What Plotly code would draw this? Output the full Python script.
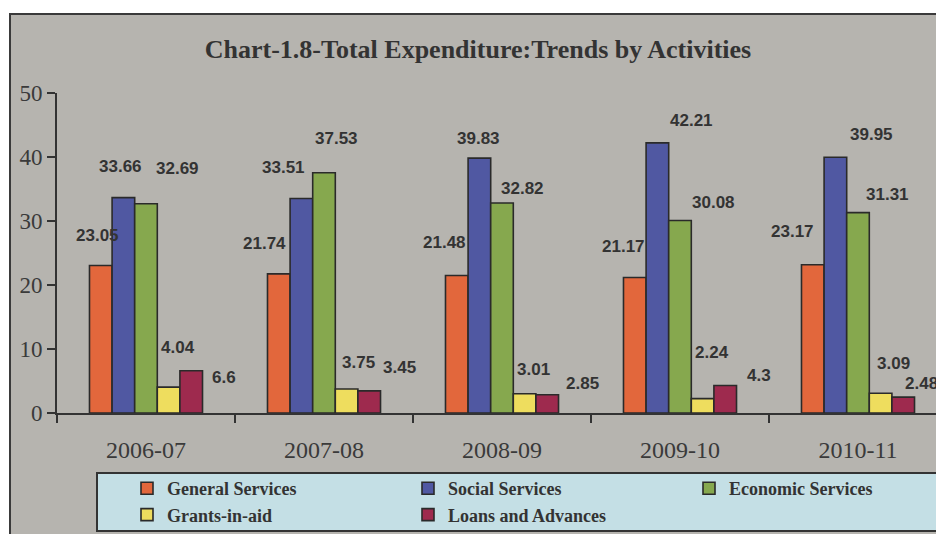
import plotly.graph_objects as go

# Fiscal years on the category axis
years = ["2006-07", "2007-08", "2008-09", "2009-10", "2010-11"]

# Share of total expenditure by activity (per cent)
general_services = [23.05, 21.74, 21.48, 21.17, 23.17]
social_services = [33.66, 33.51, 39.83, 42.21, 39.95]
economic_services = [32.69, 37.53, 32.82, 30.08, 31.31]
grants_in_aid = [4.04, 3.75, 3.01, 2.24, 3.09]
loans_and_advances = [6.6, 3.45, 2.85, 4.3, 2.48]

series_names = ["General Services", "Social Services", "Economic Services",
                "Grants-in-aid", "Loans and Advances"]
series_values = [general_services, social_services, economic_services,
                 grants_in_aid, loans_and_advances]
series_colors = ["#e2673c", "#5058a2", "#86a84e", "#eedd5e", "#9e2a4e"]

# Pixel offsets (right, up) of each value label from the top centre of its bar
label_dx = [
    [-3, -14, -12, -11, -20],
    [-3, -18, -1, 34, 36],
    [31, 12, 20, 33, 29],
    [9, 12, 9, 9, 13],
    [33, 30, 35, 34, 18],
]
label_dy = [
    [30, 30, 33, 31, 33],
    [31, 31, 20, 22, 23],
    [35, 34, 14, 18, 18],
    [40, 27, 24, 46, 30],
    [-7, 23, 11, 10, 14],
]

BARGAP = 0.365
n_series = len(series_names)
bar_w = (1 - BARGAP) / n_series

fig = go.Figure()
for name, vals, col in zip(series_names, series_values, series_colors):
    fig.add_trace(go.Bar(
        x=years, y=vals, name=name,
        marker=dict(color=col, line=dict(color="#2a2a2a", width=1.6)),
        hoverinfo="x+y+name",
    ))

annotations = []
for j, vals in enumerate(series_values):
    for i, v in enumerate(vals):
        annotations.append(dict(
            x=i + (j - (n_series - 1) / 2) * bar_w, y=v,
            xref="x", yref="y",
            text=f"{v:g}", showarrow=False,
            xanchor="center", yanchor="middle",
            xshift=label_dx[j][i], yshift=label_dy[j][i],
            font=dict(family="Liberation Sans", size=17, color="#333333",
                      weight="bold"),
        ))

# Plot-area geometry in pixels (used to place the frame and legend box)
W, H = 936, 534
L, R, T, B = 57, 0, 93, 121
pw, ph = W - L - R, H - T - B


def px_x(p):
    return (p - L) / pw


def px_y(p):
    return (H - B - p) / ph


shapes = [
    # chart frame
    dict(type="rect", xref="paper", yref="paper",
         x0=px_x(10), x1=px_x(945), y0=px_y(545), y1=px_y(14),
         fillcolor="#b6b4af", line=dict(color="#3a3a3a", width=2),
         layer="below"),
    # legend box
    dict(type="rect", xref="paper", yref="paper",
         x0=px_x(97), x1=px_x(950), y0=px_y(531), y1=px_y(473),
         fillcolor="#c4dfe5", line=dict(color="#333333", width=2),
         layer="below"),
]

fig.update_layout(
    width=W, height=H,
    margin=dict(l=L, r=R, t=T, b=B, autoexpand=False),
    paper_bgcolor="white",
    plot_bgcolor="rgba(0,0,0,0)",
    barmode="group", bargap=BARGAP, bargroupgap=0,
    title=dict(
        text="Chart-1.8-Total Expenditure:Trends by Activities",
        x=478 / W, xanchor="center", xref="container",
        y=1 - 49 / H, yanchor="middle", yref="container",
        font=dict(family="Liberation Serif", size=26, color="#333333",
                  weight="bold"),
    ),
    xaxis=dict(
        type="category", range=[-0.5, -0.5 + pw / 178],
        showline=True, linecolor="#333333", linewidth=2,
        ticks="outside", tickson="boundaries", ticklen=8,
        tickcolor="#333333", tickwidth=2,
        showgrid=False, zeroline=False,
        tickfont=dict(family="Liberation Serif", size=24, color="#3a3a3a"),
        ticklabelstandoff=14,
    ),
    yaxis=dict(
        range=[0, 50], tickvals=[0, 10, 20, 30, 40, 50],
        showline=True, linecolor="#333333", linewidth=2,
        ticks="outside", ticklen=8, tickcolor="#333333", tickwidth=2,
        showgrid=False, zeroline=False,
        tickfont=dict(family="Liberation Serif", size=23, color="#3a3a3a"),
    ),
    legend=dict(
        orientation="h", x=px_x(127), xanchor="left",
        y=px_y(470), yanchor="top",
        entrywidth=236, entrywidthmode="pixels",
        bgcolor="rgba(0,0,0,0)",
        font=dict(family="Liberation Serif", size=18, color="#333333",
                  weight="bold"),
        traceorder="normal",
    ),
    annotations=annotations,
    shapes=shapes,
    showlegend=True,
)

fig.write_html("out.html")
